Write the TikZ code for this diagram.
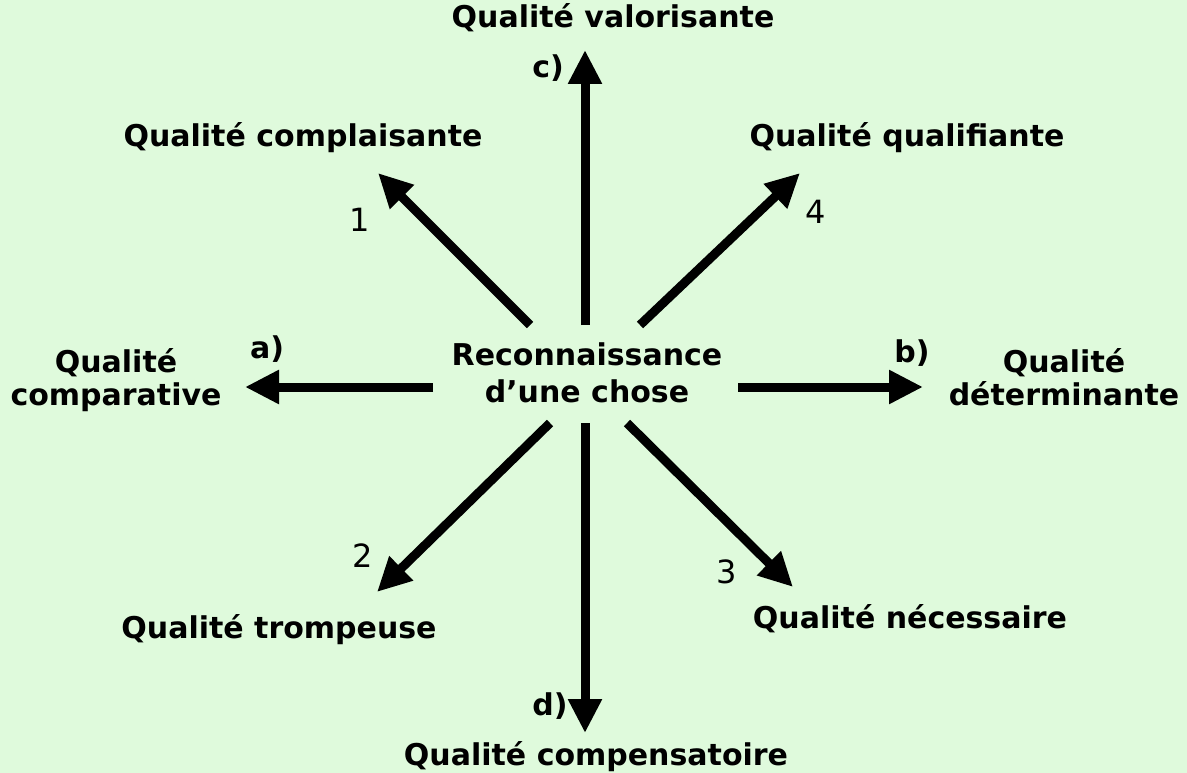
\documentclass[tikz,border=0pt]{standalone}
\usepackage{fontspec}
\setmainfont{DejaVu Sans}
\usetikzlibrary{arrows.meta}
\definecolor{bggreen}{RGB}{223,250,220}
\begin{document}
\begin{tikzpicture}[x=1pt,y=-1pt,
  lbl/.style={font=\bfseries\fontsize{30}{33}\selectfont,inner sep=0pt,anchor=base,align=center},
  num/.style={font=\fontsize{32}{34}\selectfont,inner sep=0pt,anchor=base},
  arr/.style={line width=9pt,-{Triangle[length=34pt,width=32pt]}}]
\fill[bggreen] (0,0) rectangle (1187,773);
\useasboundingbox (0,0) rectangle (1187,773);
% centre (base anchor = baseline of last line)
\node[lbl] (centre) at (587,402) {Reconnaissance\\[4pt]d’une chose};
% start points
\coordinate (sN) at (585,325);
\coordinate (sS) at (585,423);
\coordinate (sW) at (433,387);
\coordinate (sE) at (738,387);
\coordinate (sNW) at (530,325);
\coordinate (sNE) at (640,325);
\coordinate (sSW) at (550,423);
\coordinate (sSE) at (627,423);
% tips
\coordinate (tN) at (585,50);
\coordinate (tS) at (585,733);
\coordinate (tW) at (245,387);
\coordinate (tE) at (923,387);
\coordinate (tNW) at (378,173);
\coordinate (tNE) at (800,173);
\coordinate (tSW) at (377,592);
\coordinate (tSE) at (793,587);
% arrows
\draw[arr] (sN) -- (tN);
\draw[arr] (sS) -- (tS);
\draw[arr] (sW) -- (tW);
\draw[arr] (sE) -- (tE);
\draw[arr] (sNW) -- (tNW);
\draw[arr] (sNE) -- (tNE);
\draw[arr] (sSW) -- (tSW);
\draw[arr] (sSE) -- (tSE);
% labels
\node[lbl] (valo) at (613,28) {Qualité valorisante};
\node[lbl] (compl) at (303,147) {Qualité complaisante};
\node[lbl] (qualif) at (907,147) {Qualité qualifiante};
\node[lbl] (compa) at (116,405) {Qualité\\comparative};
\node[lbl] (deter) at (1064,405) {Qualité\\déterminante};
\node[lbl] (tromp) at (279,638) {Qualité trompeuse};
\node[lbl] (neces) at (910,628) {Qualité nécessaire};
\node[lbl] (compe) at (596,765) {Qualité compensatoire};
% letters
\node[lbl] (la) at (267,358) {a)};
\node[lbl] (lb) at (912,362) {b)};
\node[lbl] (lc) at (548,78) {c)};
\node[lbl] (ld) at (550,715) {d)};
% numbers
\node[num] (n1) at (360,232) {1};
\node[num] (n2) at (363,567) {2};
\node[num] (n3) at (727,583) {3};
\node[num] (n4) at (816,223) {4};
\end{tikzpicture}
\end{document}
